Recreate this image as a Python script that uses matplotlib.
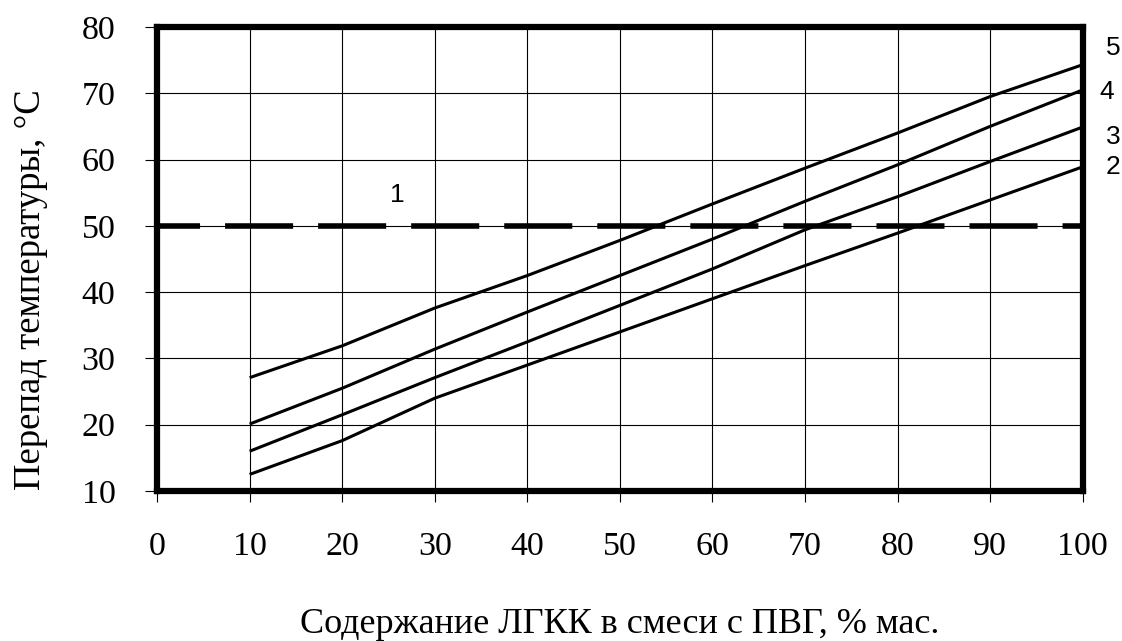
import matplotlib.pyplot as plt

# содержание ЛГКК, % мас.
x_vals = [10, 20, 30, 40, 50, 60, 70, 80, 90, 100]

# перепад температуры для кривых 2-5
curve_2 = [12.5, 17.6, 24.0, 29.0, 34.0, 39.0, 44.0, 48.9, 53.9, 58.9]
curve_3 = [16.0, 21.5, 27.1, 32.5, 38.0, 43.5, 49.4, 54.4, 59.7, 64.9]
curve_4 = [20.1, 25.5, 31.4, 37.0, 42.5, 48.0, 53.7, 59.2, 65.0, 70.5]
curve_5 = [27.1, 31.9, 37.6, 42.5, 47.8, 53.3, 58.7, 64.0, 69.5, 74.3]
limit_x = [0, 100]
limit_y = [50, 50]   # кривая 1

x_ticks = list(range(0, 101, 10))
y_ticks = list(range(10, 81, 10))

plt.rcParams['lines.scale_dashes'] = False
serif = ['Liberation Serif', 'DejaVu Serif']
sans = ['Liberation Sans', 'DejaVu Sans']

fig = plt.figure(figsize=(11.22, 6.41), dpi=100)
ax = fig.add_axes([0.140, 0.234, 0.825, 0.724])

ax.set_xlim(0, 100)
ax.set_ylim(10, 80)
ax.set_xticks(x_ticks)
ax.set_yticks(y_ticks)
ax.grid(True, color='black', linewidth=0.8)
ax.set_axisbelow(True)

for c in [curve_2, curve_3, curve_4, curve_5]:
    ax.plot(x_vals, c, color='black', linewidth=2.2, solid_capstyle='butt')

ax.plot(limit_x, limit_y, color='black', linewidth=4.0,
        linestyle=(18, (49, 18)), dash_capstyle='butt')

for sp in ax.spines.values():
    sp.set_linewidth(4.5)
    sp.set_color('black')

ax.tick_params(axis='x', length=8, width=0.8, pad=21, labelsize=24.5)
ax.tick_params(axis='y', length=9, width=0.8, pad=21, labelsize=24.5)
for lab in ax.get_xticklabels() + ax.get_yticklabels():
    lab.set_fontfamily(serif)

ax.set_xlabel('Содержание ЛГКК в смеси с ПВГ, % мас.', fontsize=26,
              family=serif, labelpad=33)
ax.set_ylabel('Перепад температуры, °С', fontsize=26.5, family=serif, labelpad=24)
ax.yaxis.label.set_y(0.433)

# подписи кривых
ax.text(25.9, 54.7, '1', fontsize=19, family=sans, ha='center', va='center')
ax.text(103.3, 76.8, '5', fontsize=19, family=sans, ha='center', va='center', clip_on=False)
ax.text(102.6, 70.2, '4', fontsize=19, family=sans, ha='center', va='center', clip_on=False)
ax.text(103.3, 63.4, '3', fontsize=19, family=sans, ha='center', va='center', clip_on=False)
ax.text(103.3, 58.9, '2', fontsize=19, family=sans, ha='center', va='center', clip_on=False)

fig.savefig('out.png', dpi=100)
